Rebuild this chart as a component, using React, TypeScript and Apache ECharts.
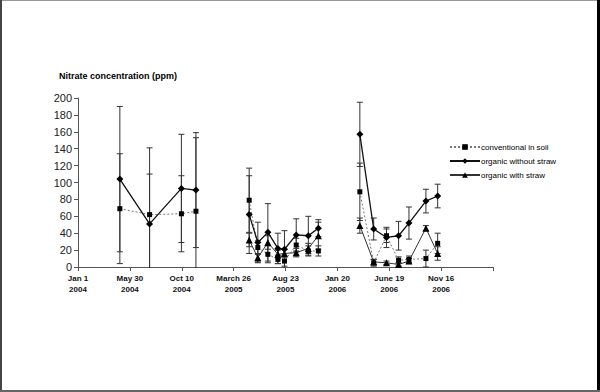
import React, { useEffect, useRef } from "react";
import * as echarts from "echarts";

// x positions: days since Jan 1 2004
const days2004 = [121, 207, 299, 341];
const days2005 = [495, 520, 549, 578, 597, 631, 666, 695];
const days2006 = [815, 855, 892, 927, 957, 1006, 1040];

const tickLabels = ["Jan 1\n2004", "May 30\n2004", "Oct 10\n2004", "March 26\n2005", "Aug 23\n2005", "Jan 20\n2006", "June 19\n2006", "Nov 16\n2006", ""];

// conventional in soil
const conv2004 = [69, 62, 63, 66];
const convErr2004 = [65, 79, 45, 87];
const conv2005 = [79, 23, 15, 9, 7, 26, 19, 19];
const convErr2005 = [38, 8, 10, 5, 6, 8, 6, 6];
const conv2006 = [89, 5, 37, 8, 9, 10, 28];
const convErr2006 = [34, 4, 8, 4, 4, 10, 12];

// organic without straw
const noStraw2004 = [104, 51, 93, 91];
const noStrawErr2004 = [86, 59, 64, 68];
const noStraw2005 = [62, 29, 41, 22, 21, 38, 37, 46];
const noStrawErr2005 = [46, 24, 34, 18, 22, 19, 23, 10];
const noStraw2006 = [157, 45, 35, 37, 52, 78, 84];
const noStrawErr2006 = [38, 13, 12, 17, 19, 14, 14];

// organic with straw
const straw2005 = [32, 11, 29, 15, 16, 17, 22, 37];
const strawErr2005 = [8, 5, 8, 5, 5, 5, 6, 16];
const straw2006 = [49, 6, 5, 3, 7, 46, 16];
const strawErr2006 = [9, 3, 2, 2, 3, 3, 8];

type Seg = { x: number[]; y: number[]; e: number[] };

function lineData(segs: Seg[]) {
  const out: any[] = [];
  segs.forEach((s, si) => {
    if (si > 0) out.push([s.x[0] - 1, "-"]);
    s.x.forEach((x, i) => out.push([x, s.y[i]]));
  });
  return out;
}
function errData(segs: Seg[]) {
  const out: any[] = [];
  segs.forEach((s) => s.x.forEach((x, i) => out.push([x, s.y[i] - s.e[i], s.y[i] + s.e[i]])));
  return out;
}

const convSegs: Seg[] = [
  { x: days2004, y: conv2004, e: convErr2004 },
  { x: days2005, y: conv2005, e: convErr2005 },
  { x: days2006, y: conv2006, e: convErr2006 },
];
const noStrawSegs: Seg[] = [
  { x: days2004, y: noStraw2004, e: noStrawErr2004 },
  { x: days2005, y: noStraw2005, e: noStrawErr2005 },
  { x: days2006, y: noStraw2006, e: noStrawErr2006 },
];
const strawSegs: Seg[] = [
  { x: days2005, y: straw2005, e: strawErr2005 },
  { x: days2006, y: straw2006, e: strawErr2006 },
];

function errorSeries(segs: Seg[]) {
  return {
    type: "custom",
    silent: true,
    z: 1,
    clip: false,
    data: errData(segs),
    encode: { x: 0, y: [1, 2] },
    renderItem: (params: any, api: any) => {
      const x = api.value(0);
      let lo = api.value(1);
      const hi = api.value(2);
      const loCap = lo >= 0;
      if (lo < 0) lo = 0;
      const pHi = api.coord([x, hi]);
      const pLo = api.coord([x, lo]);
      const stroke = { stroke: "#333", lineWidth: 1 };
      const children: any[] = [
        { type: "line", shape: { x1: pHi[0], y1: pHi[1], x2: pLo[0], y2: pLo[1] + (loCap ? 0 : 1) }, style: stroke },
        { type: "line", shape: { x1: pHi[0] - 3, y1: pHi[1], x2: pHi[0] + 3, y2: pHi[1] }, style: stroke },
      ];
      if (loCap) children.push({ type: "line", shape: { x1: pLo[0] - 3, y1: pLo[1], x2: pLo[0] + 3, y2: pLo[1] }, style: stroke });
      return { type: "group", children };
    },
  };
}

export default function App() {
  const ref = useRef<HTMLDivElement>(null);
  useEffect(() => {
    const chart = echarts.init(ref.current!, null, { renderer: "svg" });
    const font = "'Liberation Sans', Arial, sans-serif";
    chart.setOption({
      animation: false,
      backgroundColor: "#fff",
      textStyle: { fontFamily: font },
      grid: { left: 78, right: 107, top: 98, bottom: 125 },
      title: {
        text: "Nitrate concentration (ppm)",
        left: 54,
        top: 66,
        textStyle: { fontSize: 9, fontWeight: "bold", color: "#000", fontFamily: font },
      },
      legend: {
        orient: "vertical",
        left: 444,
        top: 138,
        itemWidth: 30,
        itemHeight: 7,
        itemGap: 6,
        data: ["conventional in soil", "organic without straw", "organic with straw"],
        textStyle: { fontSize: 8, color: "#000", fontFamily: font, padding: [0, 0, 0, -4] },
      },
      xAxis: {
        type: "value",
        min: 0,
        max: 1200,
        interval: 150,
        splitLine: { show: false },
        axisLine: { lineStyle: { color: "#555", width: 1 } },
        axisTick: { length: 4, lineStyle: { color: "#555" } },
        axisLabel: {
          fontSize: 8,
          fontWeight: "bold",
          color: "#111",
          lineHeight: 11,
          margin: 6,
          formatter: (v: number) => tickLabels[Math.round(v / 150)] ?? "",
        },
      },
      yAxis: {
        type: "value",
        min: 0,
        max: 200,
        interval: 20,
        splitLine: { show: false },
        axisLine: { show: true, lineStyle: { color: "#555", width: 1 } },
        axisTick: { show: true, length: 4, lineStyle: { color: "#555" } },
        axisLabel: { fontSize: 11, color: "#222", margin: 6 },
      },
      series: [
        errorSeries(convSegs),
        errorSeries(noStrawSegs),
        errorSeries(strawSegs),
        {
          name: "conventional in soil",
          type: "line",
          z: 3,
          data: lineData(convSegs),
          symbol: "rect",
          symbolSize: 5,
          lineStyle: { color: "#777", width: 1, type: [2, 2] },
          itemStyle: { color: "#000" },
        },
        {
          name: "organic without straw",
          type: "line",
          z: 4,
          data: lineData(noStrawSegs),
          symbol: "diamond",
          symbolSize: 7,
          lineStyle: { color: "#111", width: 1.3 },
          itemStyle: { color: "#000" },
        },
        {
          name: "organic with straw",
          type: "line",
          z: 3,
          data: lineData(strawSegs),
          symbol: "triangle",
          symbolSize: 7,
          lineStyle: { color: "#333", width: 1 },
          itemStyle: { color: "#000" },
        },
      ],
      graphic: [
        { type: "rect", shape: { x: 0.5, y: 0.5, width: 598, height: 390 }, style: { fill: "none", stroke: "#999", lineWidth: 1 }, silent: true },
        { type: "line", shape: { x1: 1, y1: 0, x2: 1, y2: 392 }, style: { stroke: "#444", lineWidth: 2 }, silent: true },
        { type: "line", shape: { x1: 598.5, y1: 0, x2: 598.5, y2: 392 }, style: { stroke: "#000", lineWidth: 3 }, silent: true },
        { type: "line", shape: { x1: 0, y1: 391, x2: 600, y2: 391 }, style: { stroke: "#666", lineWidth: 2 }, silent: true },
      ],
    });
    return () => chart.dispose();
  }, []);
  return <div ref={ref} style={{ position: "fixed", left: 0, top: 0, width: 600, height: 392 }} />;
}
